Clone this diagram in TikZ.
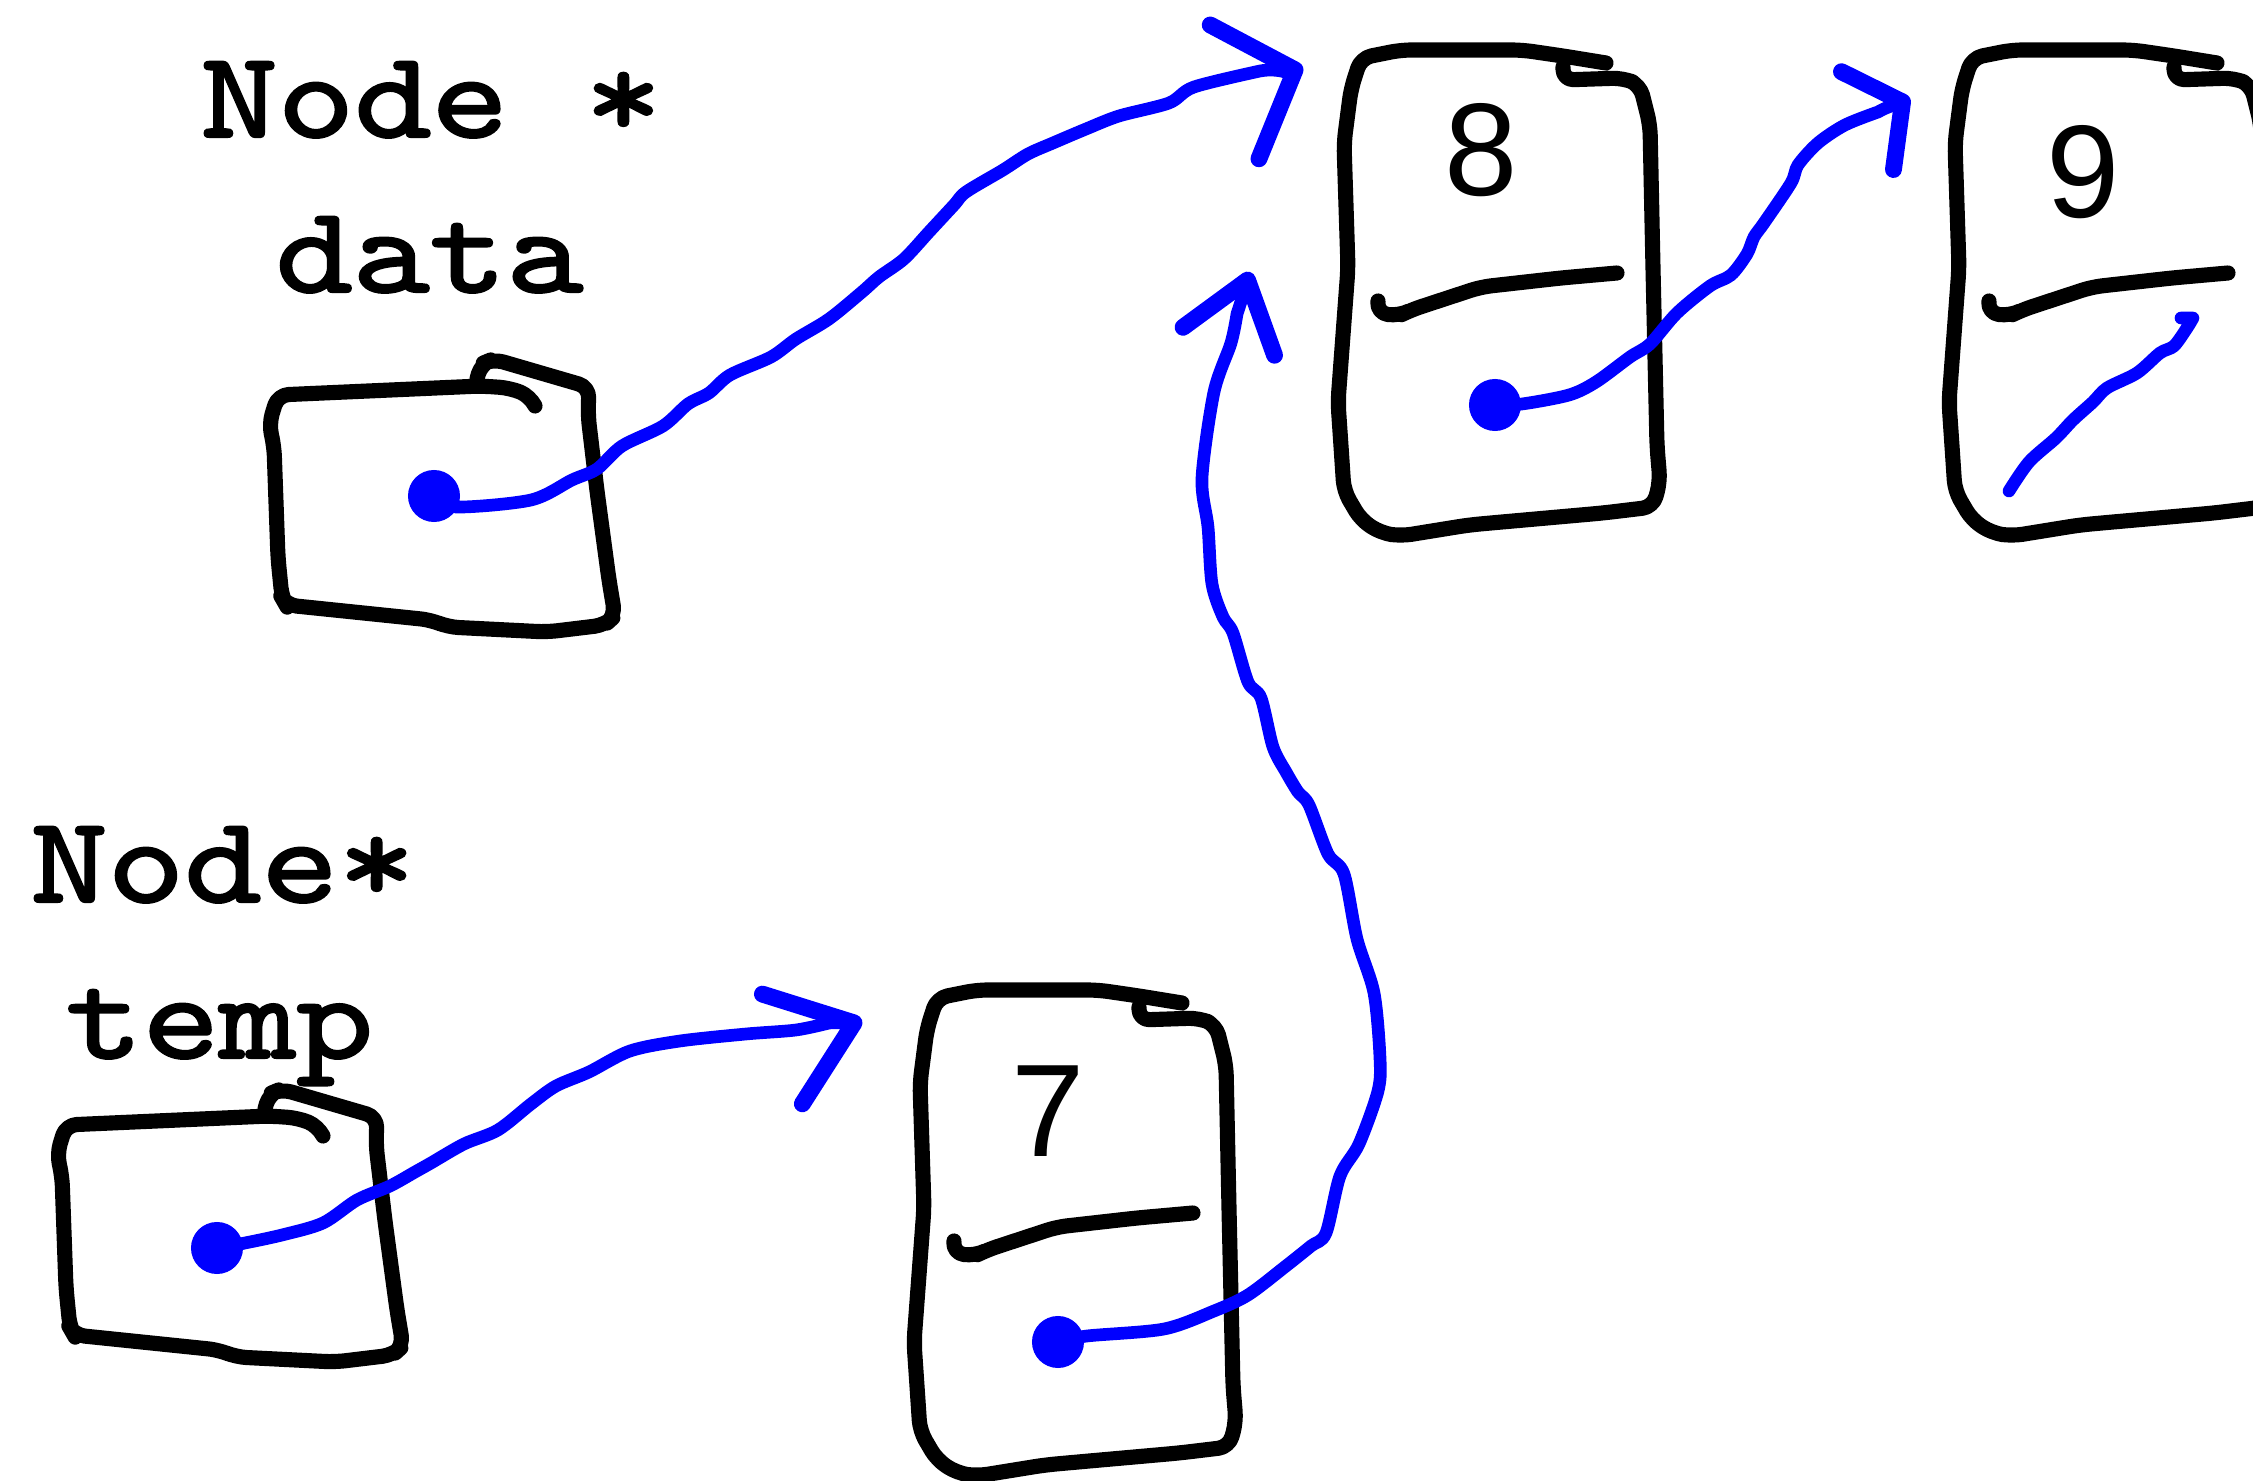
\documentclass[tikz,border=0pt]{standalone}
\usepackage{fontspec}
\usepackage{tikz}
\usetikzlibrary{arrows.meta}
\newfontfamily\codefont{lmmono10-regular.otf}[FakeStretch=1.19, FakeBold=2]
\newfontfamily\digitsans{Liberation Sans}

\tikzset{
  boxline/.style={line width=4.3pt, line cap=round, line join=round, rounded corners=3pt},
  ptr/.style={blue, line width=3.6pt, line cap=round, line join=round},
  ptrtip/.style 2 args={-{Straight Barb[length=#1, width=#2, line width'=4.8pt, round]}},
  ptrdot/.style={circle, fill=blue, inner sep=0pt, minimum size=0.52cm},
  lbl/.style={anchor=base west, inner sep=0pt, font=\fontsize{35}{40}\selectfont\codefont},
  digit/.style={inner sep=0pt, font=\fontsize{37.5}{40}\selectfont\digitsans},
  pics/ptrbox/.style={code={
    \draw[boxline] (199,16) -- (203,31) -- (215,36) -- (311,8) -- (310,-20) -- (319,-96)
      -- (331,-185) -- (337,-221) -- (327,-230) -- (269,-237) -- (170,-232) -- (153,-225)
      -- (8,-210) -- (4,-203) -- (0,-163) -- (-4,-51) -- (-9,-29) -- (0,0) -- (203,9)
      -- (232,7) -- (252,-1) -- (257,-11);
  }},
  pics/listnode/.style n args={3}{code={
    \draw[boxline] (202,-9) -- (202,-22) -- (262,-20) -- (279,-27) -- (289,-67) -- (292,-210)
      -- (296,-388) -- (299,-424) -- (292,-449) -- (242,-455) -- (141,-464) -- (108,-467)
      -- (40,-478) -- (20,-475) -- (0,-462) -- (-17,-433) -- (-20,-388) -- (-23,-344)
      -- (-13,-210) -- (-17,-85) -- (-10,-31) -- (0,0) -- (40,8) -- (161,8) -- (202,2) -- (245,-5);
    \draw[boxline] (17,-243) -- (16,-255) -- (38,-258) -- (50,-252) -- (120,-229) -- (200,-220) -- (256,-215);
    \node[digit] (-val) at (#2,#3) {#1};
  }},
}

\begin{document}
\begin{tikzpicture}[x=0.01cm, y=0.01cm]
  \path[use as bounding box, fill=white] (0,0) rectangle (2253,1481);

  \node[lbl] (hd) at (200,1344) {Node *};
  \node[lbl] (hdd) at (275,1189) {data};
  \node[lbl] (ht) at (30,579) {Node*};
  \node[lbl] (htt) at (65,423) {temp};

  \pic (d) at (278,1086) {ptrbox};
  \pic (t) at (66,356) {ptrbox};
  \pic (n8) at (1361,1423) {listnode={8}{120}{-92}};
  \pic (n9) at (1972,1423) {listnode={9}{111}{-114}};
  \pic (n7) at (937,483) {listnode={7}{111}{-113}};

  \node[ptrdot] (dp) at (434,985) {};
  \node[ptrdot] (tp) at (217,233) {};
  \node[ptrdot] (p8) at (1495,1076) {};
  \node[ptrdot] (p7) at (1058,139) {};

  \coordinate (tip8) at (1303,1414);
  \coordinate (tip7) at (862,461);
  \coordinate (tip9) at (1910,1383);
  \coordinate (tip8b) at (1250,1209);

  % data -> 8
  \draw[ptr, ptrtip={18.3pt}{40.5pt}] plot[smooth] coordinates {(dp) (456,974) (531,981)
    (572,1001) (597,1012) (622,1035) (663,1055) (688,1077) (709,1088) (730,1106) (771,1124)
    (796,1142) (829,1162) (862,1189) (879,1204) (904,1222) (929,1249) (954,1276) (966,1289)
    (1003,1311) (1028,1327) (1053,1338) (1086,1352) (1119,1365) (1169,1378) (1194,1394)
    (1260,1410)} to[out=10, in=200] (tip8);

  % temp -> 7
  \draw[ptr, ptrtip={21.7pt}{33.2pt}] plot[smooth] coordinates {(tp) (240,237) (282,246)
    (323,258) (357,281) (390,295) (415,309) (431,318) (464,337) (498,351) (531,377) (556,395)
    (589,409) (630,430) (680,440) (746,447) (796,451) (829,458)} to[out=5, in=200] (tip7);

  % 8 -> 9
  \draw[ptr, ptrtip={11.3pt}{31.5pt}] plot[smooth] coordinates {(p8) (1522,1077) (1569,1086)
    (1596,1099) (1630,1124) (1650,1137) (1677,1168) (1710,1195) (1731,1206) (1747,1227)
    (1754,1244) (1764,1258) (1791,1298) (1798,1316) (1818,1338) (1845,1356)
    (1878,1369)} to[out=30, in=208] (tip9);

  % 7 -> 8
  \draw[ptr, ptrtip={18.2pt}{27.2pt}] plot[smooth] coordinates {(p7) (1087,145) (1164,152)
    (1214,170) (1248,186) (1286,215) (1311,235) (1326,248) (1340,305) (1359,337) (1378,390)
    (1380,423) (1374,488) (1357,542) (1344,607) (1328,627) (1309,676) (1298,689) (1286,709)
    (1273,734) (1261,783) (1248,799) (1233,848) (1223,864) (1212,897) (1208,954) (1202,1003)
    (1214,1089) (1231,1138) (1237,1167)} to[out=72, in=253] (tip8b);

  % 9
  \draw[ptr] plot[smooth] coordinates {(2009,990) (2029,1019) (2056,1043) (2073,1061)
    (2093,1079) (2107,1093) (2137,1108) (2160,1128) (2174,1135) (2187,1153) (2193,1163)}
    -- (2181,1163);
\end{tikzpicture}
\end{document}
